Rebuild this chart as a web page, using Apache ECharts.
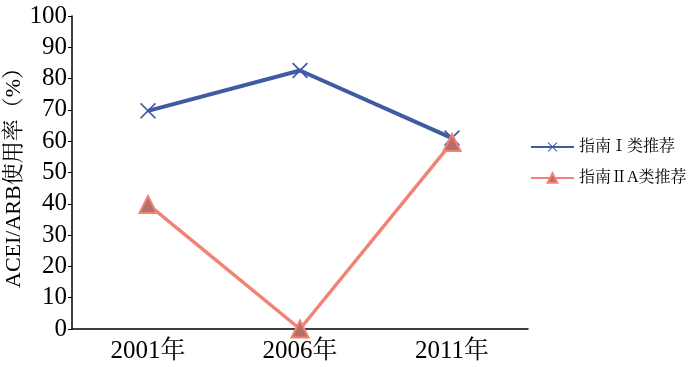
<!DOCTYPE html>
<html><head><meta charset="utf-8">
<script src="https://cdn.jsdelivr.net/npm/echarts@6/dist/echarts.min.js"></script>
<style>html,body{margin:0;padding:0;background:#fff}#c{width:700px;height:367px}</style>
</head><body><div id="c"></div>
<script>
var categories = ['2001年', '2006年', '2011年'];
var seriesNames = ['指南Ⅰ类推荐', '指南ⅡA类推荐'];
var classI = [69.7, 82.6, 61];
var classIIA = [39.8, 0, 59.6];
var yTicks = {min: 0, max: 100, interval: 10};

var fontStack = '"Liberation Serif","Noto Serif CJK SC","Noto Sans CJK SC",serif';
var xPath = 'path://M0,1.5L1.5,0L10,8.5L18.5,0L20,1.5L11.5,10L20,18.5L18.5,20L10,11.5L1.5,20L0,18.5L8.5,10Z';

var chart = echarts.init(document.getElementById('c'));
chart.setOption({
  animation: false,
  backgroundColor: '#fff',
  grid: {left: 72, top: 16, width: 456, height: 313, containLabel: false, outerBoundsMode: 'none'},
  legend: {
    orient: 'vertical', left: 525, top: 134, itemGap: 15, itemWidth: 43, itemHeight: 12,
    textStyle: {fontFamily: fontStack, fontSize: 16, color: '#000'},
    data: seriesNames
  },
  xAxis: {
    type: 'category', data: categories, boundaryGap: true,
    axisLine: {lineStyle: {color: '#000', width: 1.5}},
    axisTick: {show: false},
    axisLabel: {fontFamily: fontStack, fontSize: 25, color: '#000', margin: 10}
  },
  yAxis: {
    type: 'value', min: yTicks.min, max: yTicks.max, interval: yTicks.interval,
    name: 'ACEI/ARB使用率（%）', nameLocation: 'middle', nameGap: 47, nameRotate: 90,
    nameMoveOverlap: false,
    nameTextStyle: {fontFamily: fontStack, fontSize: 22, color: '#000'},
    axisLine: {show: true, lineStyle: {color: '#000', width: 1.5}},
    axisTick: {show: true, inside: false, length: 4, lineStyle: {color: '#000'}},
    splitLine: {show: false},
    axisLabel: {fontFamily: fontStack, fontSize: 25, color: '#000', margin: 5}
  },
  series: [
    {
      name: seriesNames[0], type: 'line', data: classI,
      symbol: xPath, symbolSize: 16,
      itemStyle: {color: '#3f5ca3'},
      lineStyle: {color: '#3f5ca3', width: 4}
    },
    {
      name: seriesNames[1], type: 'line', data: classIIA,
      symbol: 'triangle', symbolSize: 17,
      itemStyle: {color: '#b66f67', borderColor: '#f28275', borderWidth: 2},
      lineStyle: {color: '#f28275', width: 3.5}
    }
  ]
});
</script></body></html>
